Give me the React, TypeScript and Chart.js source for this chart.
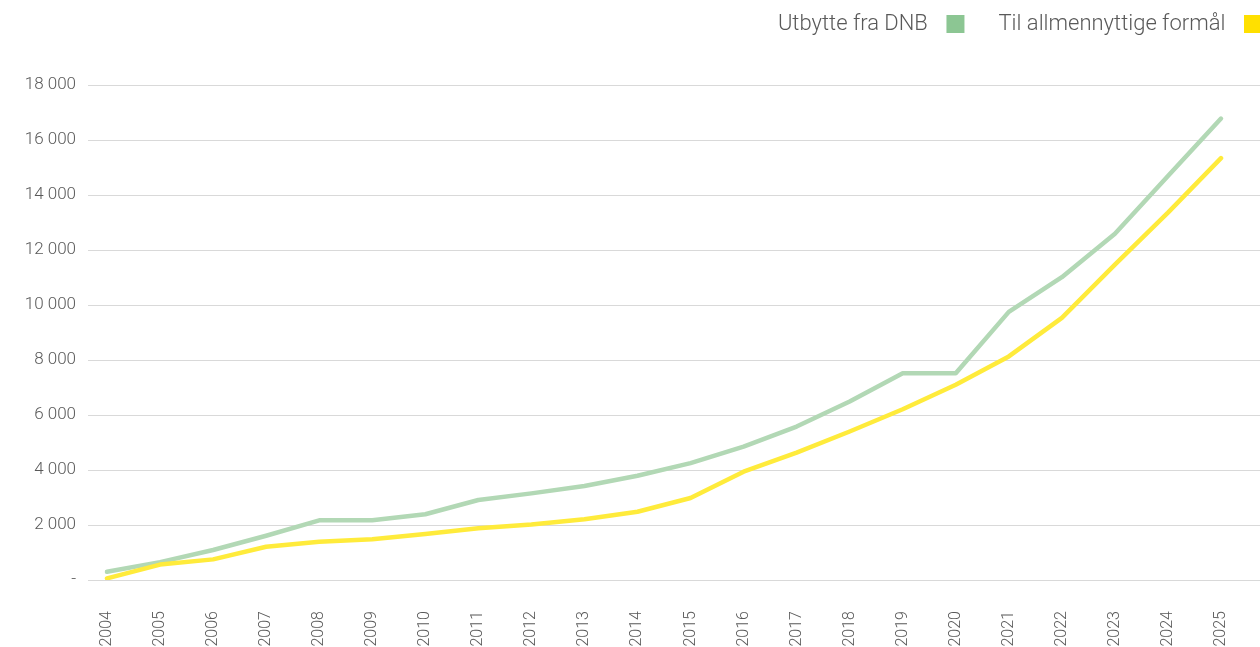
import React, { useEffect, useRef } from "react";
import { Chart, registerables } from "chart.js";

Chart.register(...registerables);

const years = [2004, 2005, 2006, 2007, 2008, 2009, 2010, 2011, 2012, 2013, 2014, 2015, 2016, 2017, 2018, 2019, 2020, 2021, 2022, 2023, 2024, 2025];
const utbytte = [300, 650, 1090, 1610, 2170, 2170, 2390, 2910, 3150, 3420, 3790, 4250, 4850, 5580, 6490, 7520, 7520, 9750, 11010, 12590, 14690, 16780];
const allmennyttige = [60, 560, 750, 1210, 1390, 1480, 1670, 1880, 2020, 2210, 2480, 2980, 3940, 4630, 5400, 6210, 7100, 8130, 9530, 11470, 13360, 15340];
const seriesNames = ["Utbytte fra DNB", "Til allmennyttige formål"];
const yTicks = [0, 2000, 4000, 6000, 8000, 10000, 12000, 14000, 16000, 18000];

const FONT = "Roboto, 'Open Sans', sans-serif";
const TEXT = "#595959";
const CANVAS_W = 1296;
const CANVAS_H = 647;
const LEGEND_PAD = 34;
const TOP_PAD = -21;
const CHART_TOP = 85;

function fmt(v: number): string {
  if (v === 0) return "-";
  return String(v).replace(/\B(?=(\d{3})+(?!\d))/g, " ");
}

const legendHeightFix = {
  id: "legendHeightFix",
  beforeLayout(chart: any) {
    const lg = chart.legend;
    if (lg && !lg.__patched) {
      const orig = lg.fit.bind(lg);
      lg.fit = function () {
        orig();
        this.height = CHART_TOP - TOP_PAD;
      };
      lg.__patched = true;
    }
  },
};

export default function App() {
  const ref = useRef<HTMLCanvasElement | null>(null);

  useEffect(() => {
    document.body.style.margin = "0";
    const canvas = ref.current!;
    const chart = new Chart(canvas, {
      type: "line",
      data: {
        datasets: [
          {
            label: seriesNames[0],
            data: years.map((y, i) => ({ x: y, y: utbytte[i] })),
            borderColor: "#b2d8b5",
            backgroundColor: "#8cc693",
            borderWidth: 4.5,
            pointRadius: 0,
            tension: 0,
            borderCapStyle: "round",
            borderJoinStyle: "round",
            order: 1,
          },
          {
            label: seriesNames[1],
            data: years.map((y, i) => ({ x: y, y: allmennyttige[i] })),
            borderColor: "#ffeb3b",
            backgroundColor: "#ffe000",
            borderWidth: 4.5,
            pointRadius: 0,
            tension: 0,
            borderCapStyle: "round",
            borderJoinStyle: "round",
            order: 0,
          },
        ],
      },
      options: {
        animation: false,
        responsive: false,
        maintainAspectRatio: false,
        layout: { padding: { top: TOP_PAD, right: 0, left: 0, bottom: 0 } },
        plugins: {
          tooltip: { enabled: false },
          legend: {
            display: true,
            position: "top",
            align: "start",
            rtl: true,
            labels: {
              font: { family: FONT, size: 22, weight: "300" },
              color: TEXT,
              boxWidth: 18,
              boxHeight: 18,
              padding: LEGEND_PAD,
              sort: (a: any, b: any) => b.datasetIndex - a.datasetIndex,
              generateLabels: (ch: any) => {
                const items = Chart.defaults.plugins.legend.labels.generateLabels(ch);
                items.forEach((it: any) => {
                  it.strokeStyle = it.fillStyle;
                  it.lineWidth = 0;
                  it.text = it.text + " \u200a";
                });
                return items;
              },
            },
          },
        },
        scales: {
          x: {
            type: "linear",
            min: 2004 - 19 / 53.05,
            max: 2025 + (CANVAS_W - 1221) / 53.05,
            afterBuildTicks: (axis: any) => {
              axis.ticks = years.map((v) => ({ value: v }));
            },
            afterFit: (axis: any) => {
              axis.height = 67;
            },
            grid: { display: false, drawTicks: false },
            border: { display: false },
            ticks: {
              autoSkip: false,
              minRotation: 90,
              maxRotation: 90,
              padding: 31,
              color: TEXT,
              font: { family: FONT, size: 16, weight: "300" },
              callback: (v: any) => String(v),
            },
          },
          y: {
            min: 0,
            max: 18000,
            afterBuildTicks: (axis: any) => {
              axis.ticks = yTicks.map((v) => ({ value: v }));
            },
            afterFit: (axis: any) => {
              axis.width = 88;
            },
            grid: { color: "#d9d9d9", lineWidth: 1, drawTicks: false },
            border: { display: false },
            ticks: {
              padding: 12,
              color: TEXT,
              font: { family: FONT, size: 17, weight: "300" },
              callback: (v: any) => fmt(Number(v)),
            },
          },
        },
      },
      plugins: [legendHeightFix],
    });
    return () => chart.destroy();
  }, []);

  return (
    <div style={{ width: 1260, height: CANVAS_H, overflow: "hidden", position: "relative", background: "#fff" }}>
      <canvas ref={ref} width={CANVAS_W} height={CANVAS_H} style={{ display: "block", width: CANVAS_W, height: CANVAS_H }} />
    </div>
  );
}
